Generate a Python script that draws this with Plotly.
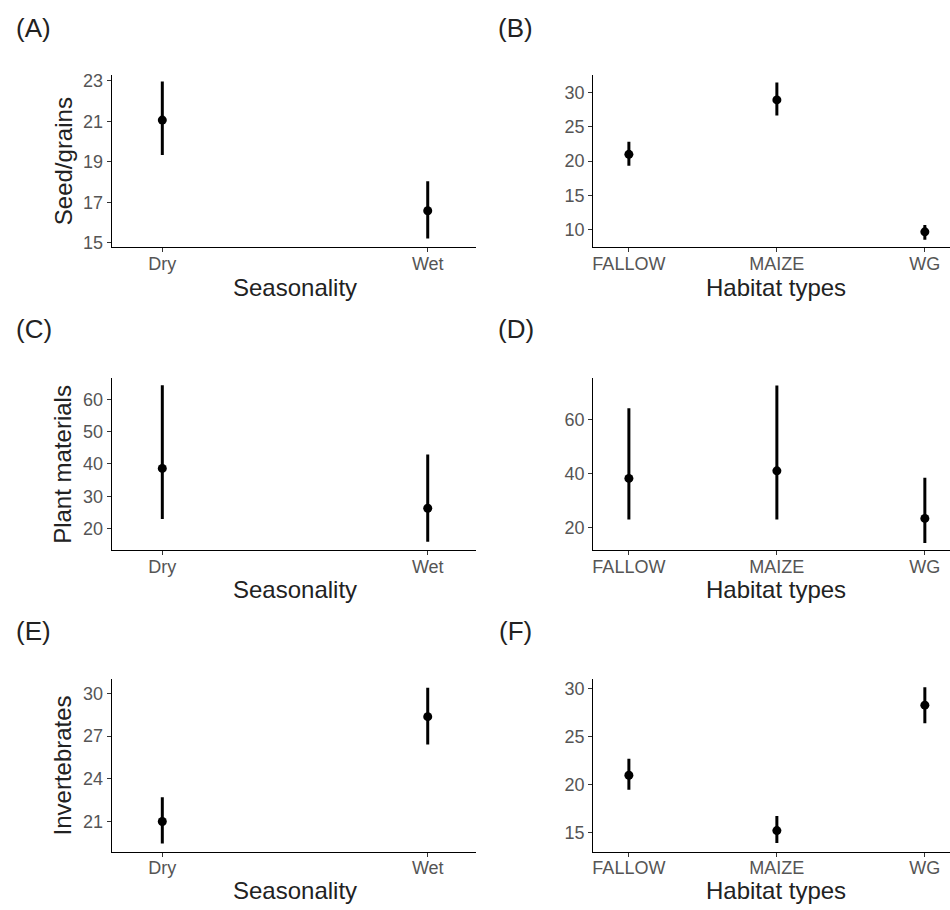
import plotly.graph_objects as go
from plotly.subplots import make_subplots

W, H = 950, 910

# ---- data ----
season = ["Dry", "Wet"]
habitat = ["FALLOW", "MAIZE", "WG"]

seed_season_mean = [21.06, 16.58]
seed_season_lo = [19.33, 15.2]
seed_season_hi = [22.97, 18.03]

seed_habitat_mean = [20.98, 28.9, 9.7]
seed_habitat_lo = [19.3, 26.64, 8.56]
seed_habitat_hi = [22.8, 31.44, 10.7]

plant_season_mean = [38.6, 26.3]
plant_season_lo = [23.0, 15.9]
plant_season_hi = [64.3, 42.9]

plant_habitat_mean = [38.3, 41.1, 23.5]
plant_habitat_lo = [23.1, 23.1, 14.4]
plant_habitat_hi = [64.3, 72.7, 38.5]

invert_season_mean = [21.0, 28.36]
invert_season_lo = [19.46, 26.4]
invert_season_hi = [22.7, 30.39]

invert_habitat_mean = [20.97, 15.2, 28.28]
invert_habitat_lo = [19.46, 13.9, 26.4]
invert_habitat_hi = [22.69, 16.72, 30.16]

panel_labels = ["(A)", "(B)", "(C)", "(D)", "(E)", "(F)"]
y_titles = ["Seed/grains", "Plant materials", "Invertebrates"]
x_titles = ["Seasonality", "Habitat types"]

season_ticks = {
    1: [15, 17, 19, 21, 23],
    3: [20, 30, 40, 50, 60],
    5: [21, 24, 27, 30],
}
habitat_ticks = {
    2: [10, 15, 20, 25, 30],
    4: [20, 40, 60],
    6: [15, 20, 25, 30],
}
y_ranges = {
    1: [14.77, 23.28], 2: [7.45, 32.49],
    3: [13.4, 66.6], 4: [11.84, 75.5],
    5: [18.89, 30.97], 6: [13.01, 30.96],
}

panels = [
    (1, 1, season, seed_season_mean, seed_season_lo, seed_season_hi),
    (1, 2, habitat, seed_habitat_mean, seed_habitat_lo, seed_habitat_hi),
    (2, 1, season, plant_season_mean, plant_season_lo, plant_season_hi),
    (2, 2, habitat, plant_habitat_mean, plant_habitat_lo, plant_habitat_hi),
    (3, 1, season, invert_season_mean, invert_season_lo, invert_season_hi),
    (3, 2, habitat, invert_habitat_mean, invert_habitat_lo, invert_habitat_hi),
]

FONT = "Liberation Sans, Arial, sans-serif"

fig = make_subplots(rows=3, cols=2)

for r, c, cats, mean, lo, hi in panels:
    fig.add_trace(
        go.Scatter(
            x=cats, y=mean, mode="markers",
            marker=dict(color="black", size=9),
            error_y=dict(
                type="data", symmetric=False,
                array=[h - m for h, m in zip(hi, mean)],
                arrayminus=[m - l for m, l in zip(mean, lo)],
                color="black", thickness=3, width=0,
            ),
            showlegend=False,
        ),
        row=r, col=c,
    )

# layout geometry (pixels)
x_dom = {1: [111 / W, 475 / W], 2: [593 / W, 1.0]}
row_px = {1: (72, 246), 2: (378, 552), 3: (683, 857)}

for idx in range(1, 7):
    r = (idx - 1) // 2 + 1
    c = (idx - 1) % 2 + 1
    top, bot = row_px[r]
    xa = "xaxis" if idx == 1 else f"xaxis{idx}"
    ya = "yaxis" if idx == 1 else f"yaxis{idx}"
    xrange = [-0.19, 1.18] if c == 1 else [-0.24, 2.17]
    ticks = season_ticks.get(idx) or habitat_ticks.get(idx)
    fig.layout[xa].update(
        domain=x_dom[c], range=xrange, type="category",
        showline=True, linecolor="black", linewidth=1.3,
        ticks="outside", ticklen=4, tickcolor="#333333", tickwidth=1,
        ticklabelstandoff=-4,
        showgrid=False, zeroline=False,
        tickfont=dict(family=FONT, size=18, color="#555555"),
    )
    fig.layout[ya].update(
        domain=[1 - bot / H, 1 - top / H], range=y_ranges[idx],
        tickvals=ticks,
        showline=True, linecolor="black", linewidth=1.3,
        ticks="outside", ticklen=4, tickcolor="#333333", tickwidth=1,
        showgrid=False, zeroline=False,
        tickfont=dict(family=FONT, size=18, color="#555555"),
    )

annotations = []
# panel labels
label_pos = [(13, 24), (496, 24), (13, 329), (496, 329), (13, 634), (497, 634)]
for lab, (px, py) in zip(panel_labels, label_pos):
    annotations.append(dict(
        text=lab, x=px / W, y=1 - py / H, xref="paper", yref="paper",
        xanchor="left", yanchor="middle", showarrow=False,
        font=dict(family=FONT, size=26, color="#222222"),
    ))
# x titles
xt_y = {1: 287, 2: 592, 3: 896}
for r in (1, 2, 3):
    for c, cx in ((1, 294), (2, 776)):
        annotations.append(dict(
            text=x_titles[c - 1], x=cx / W, y=1 - xt_y[r] / H,
            xref="paper", yref="paper", xanchor="center", yanchor="middle",
            showarrow=False, font=dict(family=FONT, size=24, color="#222222"),
        ))
# y titles
for r in (1, 2, 3):
    top, bot = row_px[r]
    annotations.append(dict(
        text=y_titles[r - 1], x=62 / W, y=1 - ((top + bot) / 2) / H,
        xref="paper", yref="paper", xanchor="center", yanchor="middle",
        textangle=-90, showarrow=False,
        font=dict(family=FONT, size=24, color="#222222"),
    ))

fig.update_layout(
    width=W, height=H,
    margin=dict(l=0, r=0, t=0, b=0),
    paper_bgcolor="white", plot_bgcolor="white",
    annotations=annotations,
    font=dict(family=FONT),
)

fig.write_html(
    "out.html",
    config={"displayModeBar": False},
    post_script="document.body.style.margin='0';document.body.style.overflow='hidden';",
)
